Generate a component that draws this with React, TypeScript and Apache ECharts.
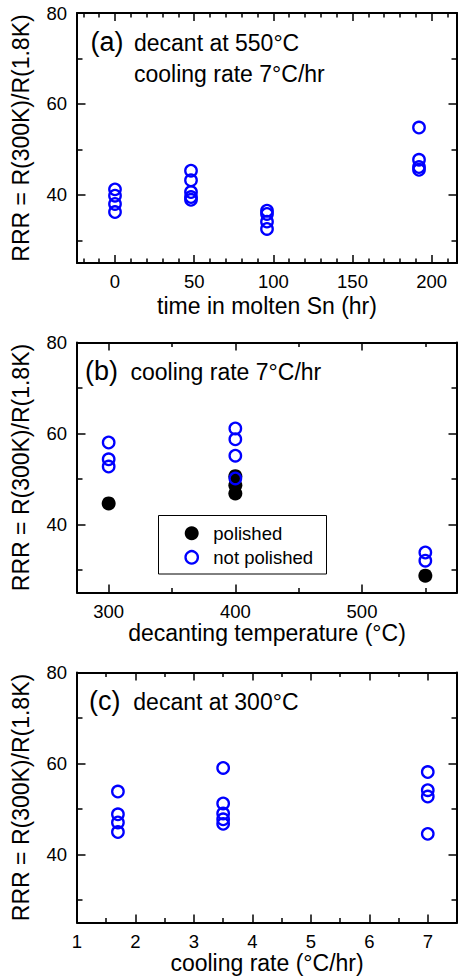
import React, { useEffect, useRef } from "react";
import * as echarts from "echarts";

// ---------- data ----------
// (a) RRR vs time in molten Sn, decant at 550 C, cooling 7 C/hr
const timeHr = [0, 0, 0, 0, 48, 48, 48, 48, 48, 96, 96, 96, 96, 192, 192, 192, 192];
const rrrTime = [41.2, 39.8, 38.0, 36.2, 45.3, 43.2, 40.6, 39.5, 38.9, 36.5, 35.8, 34.1, 32.5, 54.8, 47.7, 46.1, 45.5];

// (b) RRR vs decanting temperature, cooling 7 C/hr
const decantPolished = [300, 400, 400, 400, 550];
const rrrPolished = [44.6, 50.6, 48.6, 46.8, 28.7];
const decantNotPolished = [300, 300, 300, 400, 400, 400, 400, 550, 550];
const rrrNotPolished = [58.0, 54.3, 52.7, 61.1, 58.7, 55.1, 50.1, 33.8, 32.0];

// (c) RRR vs cooling rate, decant at 300 C
const coolingRate = [1.7, 1.7, 1.7, 1.7, 3.5, 3.5, 3.5, 3.5, 3.5, 7, 7, 7, 7];
const rrrCooling = [53.8, 48.8, 47.0, 44.9, 59.0, 51.2, 49.0, 47.7, 46.7, 58.1, 54.1, 52.7, 44.5];

// tick labels
const ticksTime = [0, 50, 100, 150, 200];
const ticksDecant = [300, 400, 500];
const ticksCooling = [1, 2, 3, 4, 5, 6, 7];
const ticksRRR = [40, 60, 80];

const yName = "RRR = R(300K)/R(1.8K)";
const legendNames = ["polished", "not polished"];

// ---------- style ----------
const FONT = "'Liberation Sans', Arial, Helvetica, sans-serif";
const BLUE = "#0000ff";
const BLACK = "#000000";

const zip = (xs: number[], ys: number[]) => xs.map((x, i) => [x, ys[i]]);

function xAxesFor(
  gridIndex: number,
  min: number,
  max: number,
  interval: number,
  majors: number[],
  minorSplit: number,
  name: string,
  nameGap: number
) {
  const common = {
    type: "value",
    gridIndex,
    min,
    max,
    minInterval: interval,
    maxInterval: interval,
    splitLine: { show: false },
    minorSplitLine: { show: false },
    axisLine: { show: true, onZero: false, lineStyle: { color: BLACK, width: 2 } },
    axisTick: { show: true, inside: true, length: 8, lineStyle: { color: BLACK, width: 1.5 }, customValues: majors },
    minorTick: { show: true, splitNumber: minorSplit, length: 4.5, lineStyle: { color: BLACK, width: 1.5 } },
  };
  return [
    {
      ...common,
      position: "bottom",
      axisLabel: { show: true, customValues: majors, margin: 9, color: BLACK, fontSize: 18.5, fontFamily: FONT },
      name,
      nameLocation: "middle",
      nameGap,
      nameTextStyle: { color: BLACK, fontSize: 23, fontFamily: FONT },
    },
    {
      ...common,
      position: "top",
      axisLabel: { show: false },
    },
  ];
}

function yAxesFor(gridIndex: number) {
  const common = {
    type: "value",
    gridIndex,
    min: 25,
    max: 80,
    minInterval: 20,
    maxInterval: 20,
    splitNumber: 3,
    splitLine: { show: false },
    minorSplitLine: { show: false },
    axisLine: { show: true, onZero: false, lineStyle: { color: BLACK, width: 2 } },
    axisTick: { show: true, inside: true, length: 8.5, lineStyle: { color: BLACK, width: 1.5 }, customValues: ticksRRR },
    minorTick: { show: true, splitNumber: 2, length: 5.5, lineStyle: { color: BLACK, width: 1.5 } },
  };
  return [
    {
      ...common,
      position: "left",
      axisLabel: { show: true, customValues: ticksRRR, margin: 10, color: BLACK, fontSize: 18.5, fontFamily: FONT },
      name: yName,
      nameLocation: "middle",
      nameGap: 45,
      nameTextStyle: { color: BLACK, fontSize: 23, fontFamily: FONT },
    },
    {
      ...common,
      position: "right",
      axisLabel: { show: false },
    },
  ];
}

const openCircle = {
  type: "scatter",
  symbol: "circle",
  symbolSize: 11.5,
  itemStyle: { color: "transparent", borderColor: BLUE, borderWidth: 2.3, opacity: 1 },
  silent: true,
  emphasis: { disabled: true },
};

function label(text: string, x: number, y: number, size: number) {
  return {
    type: "text",
    x,
    y,
    silent: true,
    style: { text, fill: BLACK, fontSize: size, fontFamily: FONT, verticalAlign: "middle", align: "left" },
  };
}

export default function App() {
  const ref = useRef<HTMLDivElement>(null);

  useEffect(() => {
    if (!ref.current) return;
    const chart = echarts.init(ref.current, null, { renderer: "svg" });
    const grids = [13, 342.5, 672.5].map((top) => ({
      left: 77,
      top,
      width: 380,
      height: 250,
      containLabel: false,
      outerBoundsMode: "none",
    }));

    const option: any = {
      animation: false,
      backgroundColor: "#ffffff",
      grid: grids,
      xAxis: [
        ...xAxesFor(0, -24, 216, 50, ticksTime, 5, "time in molten Sn (hr)", 31),
        ...xAxesFor(1, 275, 575, 100, ticksDecant, 2, "decanting temperature (°C)", 27.5),
        ...xAxesFor(2, 1, 7.5, 1, ticksCooling, 2, "cooling rate (°C/hr)", 28.5),
      ],
      yAxis: [...yAxesFor(0), ...yAxesFor(1), ...yAxesFor(2)],
      series: [
        { ...openCircle, name: "time in molten Sn", xAxisIndex: 0, yAxisIndex: 0, data: zip(timeHr, rrrTime) },
        {
          type: "scatter",
          name: legendNames[0],
          xAxisIndex: 2,
          yAxisIndex: 2,
          symbol: "circle",
          symbolSize: 14,
          itemStyle: { color: BLACK, opacity: 1 },
          silent: true,
          emphasis: { disabled: true },
          data: zip(decantPolished, rrrPolished),
        },
        { ...openCircle, name: legendNames[1], xAxisIndex: 2, yAxisIndex: 2, data: zip(decantNotPolished, rrrNotPolished) },
        { ...openCircle, name: "cooling rate", xAxisIndex: 4, yAxisIndex: 4, data: zip(coolingRate, rrrCooling) },
      ],
      graphic: [
        label("(a)", 90.5, 41.7, 27),
        label("decant at 550°C", 134, 42.5, 23),
        label("cooling rate 7°C/hr", 134, 74, 23),
        label("(b)", 85, 370.7, 27),
        label("cooling rate 7°C/hr", 130.5, 371.5, 23),
        label("(c)", 89, 700.7, 27),
        label("decant at 300°C", 133.3, 702, 23),
        // legend box for panel (b)
        {
          type: "rect",
          silent: true,
          shape: { x: 158.5, y: 515.5, width: 168, height: 58.5 },
          style: { fill: "#ffffff", stroke: BLACK, lineWidth: 1 },
        },
        {
          type: "circle",
          silent: true,
          shape: { cx: 191.7, cy: 533.3, r: 7 },
          style: { fill: BLACK },
        },
        {
          type: "circle",
          silent: true,
          shape: { cx: 191.7, cy: 557.3, r: 6.2 },
          style: { fill: "none", stroke: BLUE, lineWidth: 2.3 },
        },
        label(legendNames[0], 213.3, 533.5, 18.5),
        label(legendNames[1], 213.3, 557.5, 18.5),
      ],
    };
    chart.setOption(option);
    return () => chart.dispose();
  }, []);

  return (
    <div
      ref={ref}
      style={{ position: "fixed", left: 0, top: 0, width: 458, height: 978, background: "#ffffff" }}
    />
  );
}
